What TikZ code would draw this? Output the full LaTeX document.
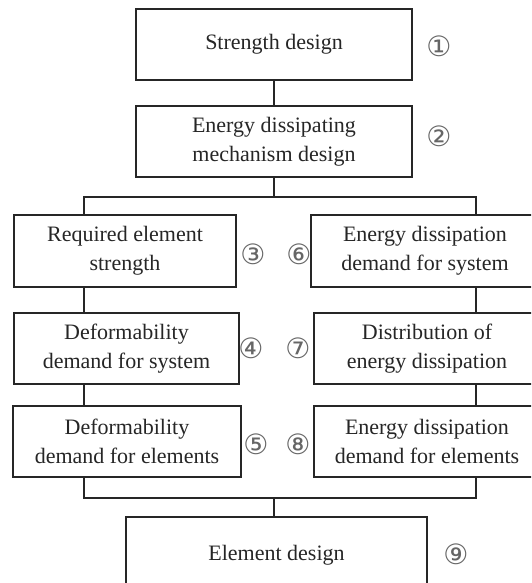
\documentclass[tikz,border=0pt]{standalone}
\usepackage{fontspec}
\setmainfont{Liberation Serif}
\newfontfamily\circfont{DejaVu Sans}
\begin{document}
\begin{tikzpicture}[x=1pt,y=-1pt]
\tikzset{
  box/.style={draw=black!85, line width=1.5pt, fill=white, align=center, text=black!85,
    font=\fontsize{22}{29}\selectfont, inner sep=0pt},
  num/.style={font=\circfont\fontsize{28}{28}\selectfont, inner sep=0pt, text=black!60},
  conn/.style={draw=black!85, line width=1.5pt}
}
\useasboundingbox (0,0) rectangle (531,583);
\clip (0,0) rectangle (531,583);
\fill[white] (0,0) rectangle (531,583);

\node[box, minimum width=276pt, minimum height=71pt] (b1) at (274,44.5) {Strength design};
\node[box, minimum width=276pt, minimum height=71pt] (b2) at (274,141.5) {Energy dissipating\\mechanism design};
\node[box, minimum width=222pt, minimum height=72pt] (b3) at (125,251) {Required element\\strength};
\node[box, minimum width=225pt, minimum height=71pt] (b4) at (126.5,348.5) {Deformability\\demand for system};
\node[box, minimum width=228pt, minimum height=71pt] (b5) at (127,441.5) {Deformability\\demand for elements};
\node[box, minimum width=228pt, minimum height=72pt] (b6) at (425,251) {Energy dissipation\\demand for system};
\node[box, minimum width=226pt, minimum height=71pt] (b7) at (427,348.5) {Distribution of\\energy dissipation};
\node[box, minimum width=226pt, minimum height=71pt] (b8) at (427,441.5) {Energy dissipation\\demand for elements};
\node[box, minimum width=301pt, minimum height=76pt] (b9) at (276.5,555) {Element design};

\node[num] (n1) at (439,46) {①};
\node[num] (n2) at (439,136) {②};
\node[num] (n3) at (253,254) {③};
\node[num] (n6) at (299,254) {⑥};
\node[num] (n4) at (251,348) {④};
\node[num] (n7) at (298,348) {⑦};
\node[num] (n5) at (256,444) {⑤};
\node[num] (n8) at (298,444) {⑧};
\node[num] (n9) at (456,554) {⑨};

\coordinate (L1) at (84,197);
\coordinate (R1) at (476,197);
\coordinate (L2) at (84,498);
\coordinate (R2) at (476,498);
\coordinate (M2) at (274,498);

\draw[conn] (b1.south) -- (b2.north);
\draw[conn] (b2.south) -- (b2.south |- L1);
\draw[conn] (b3.north -| L1) -- (L1) -- (R1) -- (b6.north -| R1);
\draw[conn] (b3.south -| L1) -- (b4.north -| L1);
\draw[conn] (b4.south -| L1) -- (b5.north -| L1);
\draw[conn] (b6.south -| R1) -- (b7.north -| R1);
\draw[conn] (b7.south -| R1) -- (b8.north -| R1);
\draw[conn] (b5.south -| L2) -- (L2) -- (R2) -- (b8.south -| R2);
\draw[conn] (M2) -- (b9.north -| M2);
\end{tikzpicture}
\end{document}
